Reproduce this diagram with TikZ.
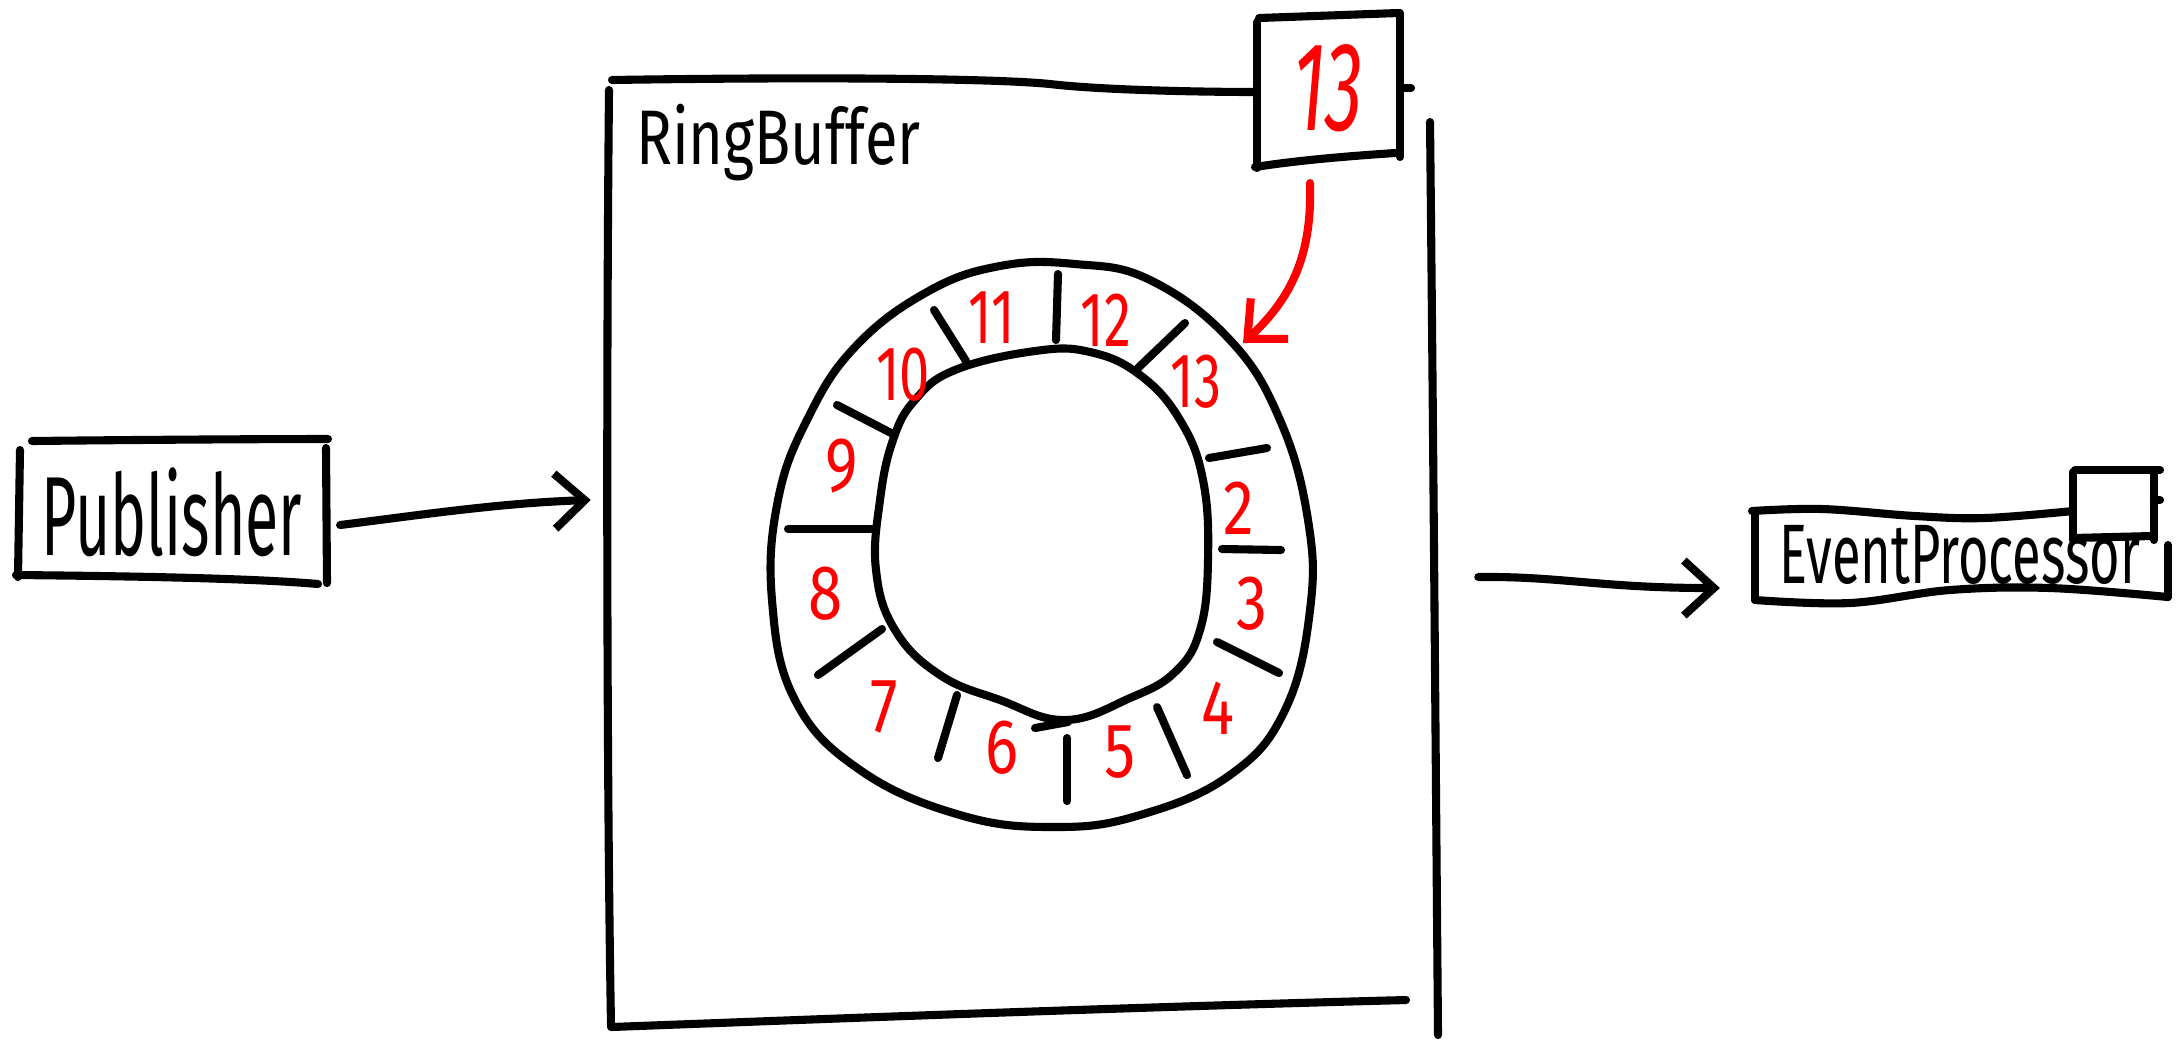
\documentclass[tikz,border=0pt]{standalone}
\usepackage{fontspec}
\usepackage{graphicx}
\setmainfont{Fira Sans}
\usetikzlibrary{arrows.meta}
\definecolor{inkred}{RGB}{255,0,0}
\newcommand\hsq[2]{\scalebox{#1}[1]{#2}}
\begin{document}
\begin{tikzpicture}[x=0.01cm,y=-0.01cm,
  ink/.style={line width=2.3pt, line cap=round, line join=round},
  redink/.style={ink, draw=inkred},
  arr/.style={ink, -{Straight Barb[length=0.3cm,width=0.55cm]}},
  redarr/.style={redink, -{Straight Barb[length=0.3cm,width=0.55cm]}},
  hole/.style={inner sep=0pt, outer sep=0pt},
  num/.style={inner sep=0pt, text=inkred, font=\fontsize{22}{22}\selectfont},
]
\useasboundingbox (0,0) rectangle (2179,1041);

% ---------- Publisher ----------
\node[hole, minimum width=3.1cm, minimum height=1.42cm, font=\fontsize{32}{32}\selectfont] (pub) at (172,512) {\hsq{0.54}{Publisher}};
\draw[ink] (32,441) .. controls (120,440) and (250,439) .. (328,439);
\draw[ink] (20,450) -- (18,577);
\draw[ink] (16,575) .. controls (120,576) and (250,578) .. (318,584);
\draw[ink] (326,448) -- (327,583);

% ---------- RingBuffer frame ----------
\node[hole, minimum width=8.2cm, minimum height=9.4cm] (rb) at (1022,558) {};
\node[hole, anchor=base west, font=\fontsize{22}{22}\selectfont] (rblabel) at (636,164) {\hsq{0.77}{RingBuffer}};
\draw[ink] (612,80) .. controls (800,77) and (990,78) .. (1050,84) .. controls (1100,90) and (1200,92) .. (1257,92);
\draw[ink] (609,90) .. controls (606,400) and (607,800) .. (611,1025);
\draw[ink] (611,1027) .. controls (800,1020) and (1100,1008) .. (1406,1000);
\draw[ink] (1430,122) .. controls (1433,400) and (1436,800) .. (1438,1035);
\draw[ink] (1403,88) -- (1411,88);

% ---------- box "13" ----------
\node[hole, minimum width=1.43cm, minimum height=1.5cm, text=inkred, font=\fontsize{36}{36}\selectfont\itshape] (box13) at (1328,88) {\hsq{0.6}{13}};
\draw[ink] (1259,18) -- (1398,13);
\draw[ink] (1257,22) -- (1257,168);
\draw[ink] (1255,167) .. controls (1300,160) and (1350,156) .. (1395,153);
\draw[ink] (1400,13) -- (1400,157);

% ---------- ring ----------
\draw[ink] plot[smooth cycle, tension=0.7] coordinates {(1000,266) (1075,264) (1150,280) (1230,340) (1280,420) (1308,520) (1310,610) (1285,710) (1230,775) (1140,815) (1055,827) (960,815) (860,770) (795,700) (772,600) (778,500) (808,418) (855,347) (927,292)};
\draw[ink] plot[smooth cycle, tension=0.7] coordinates {(1035,351) (1090,352) (1140,375) (1180,420) (1203,480) (1208,560) (1200,630) (1175,672) (1130,698) (1065,720) (1000,700) (940,675) (895,630) (876,570) (880,500) (893,440) (915,400) (955,370)};
\draw[ink] (1035,728) -- (1068,722);
% slot ticks
\draw[ink] (1058,274) -- (1056,340);
\draw[ink] (934,310) -- (966,361);
\draw[ink] (837,405) -- (893,434);
\draw[ink] (788,529) -- (872,529);
\draw[ink] (882,629) -- (818,675);
\draw[ink] (957,695) -- (938,758);
\draw[ink] (1067,738) -- (1067,801);
\draw[ink] (1157,707) -- (1187,775);
\draw[ink] (1217,642) -- (1279,673);
\draw[ink] (1222,549) -- (1281,550);
\draw[ink] (1209,458) -- (1267,448);
\draw[ink] (1138,368) -- (1185,323);
% slot numbers
\node[num] (r10) at (903,375) {\hsq{0.7}{10}};
\node[num] (r11) at (992,318) {\hsq{0.7}{11}};
\node[num] (r12) at (1106,320) {\hsq{0.7}{12}};
\node[num] (r13) at (1196,382) {\hsq{0.7}{13}};
\node[num] (r2) at (1239,508) {\hsq{0.8}{2}};
\node[num] (r3) at (1252,604) {\hsq{0.8}{3}};
\node[num] (r4) at (1218,708) {\hsq{0.8}{4}};
\node[num] (r5) at (1120,752) {\hsq{0.8}{5}};
\node[num] (r6) at (1002,748) {\hsq{0.8}{6}};
\node[num] (r7) at (884,707) {\hsq{0.8}{7}};
\node[num] (r8) at (826,594) {\hsq{0.8}{8}};
\node[num] (r9) at (842,466) {\hsq{0.8}{9}};

% red arrow from the "13" box to the ring
\coordinate (hit) at (1243,343);
\draw[redarr] ([xshift=-0.18cm,yshift=-0.2cm]box13.south) .. controls (1312,250) and (1295,295) .. (hit);

% ---------- EventProcessor ----------
\node[hole, minimum width=4.1cm, minimum height=0.85cm, font=\fontsize{24}{24}\selectfont] (ep) at (1960,555) {\hsq{0.62}{EventProcessor}};
\draw[ink] plot[smooth, tension=0.6] coordinates {(1752,511) (1822,509) (1915,516) (1985,518) (2073,511)};
\draw[ink] (1755,515) -- (1755,600);
\draw[ink] plot[smooth, tension=0.6] coordinates {(1755,600) (1850,603) (1950,590) (2050,588) (2168,597)};
\draw[ink] (2168,545) -- (2168,597);
% small square
\draw[ink] (2075,470) -- (2160,470);
\draw[ink] (2073,472) -- (2073,540);
\draw[ink] (2073,538) -- (2152,536);
\draw[ink] (2154,472) -- (2154,540);
\draw[ink] (2154,500) -- (2160,500);

% ---------- connectors ----------
\draw[arr] ([xshift=0.13cm,yshift=-0.13cm]pub.east) .. controls (420,515) and (500,503) .. ([xshift=-0.21cm,yshift=0.58cm]rb.west);
\draw[arr] ([xshift=0.46cm,yshift=-0.19cm]rb.east) .. controls (1560,576) and (1600,588) .. ([xshift=-0.35cm,yshift=-0.33cm]ep.west);
\end{tikzpicture}
\end{document}
